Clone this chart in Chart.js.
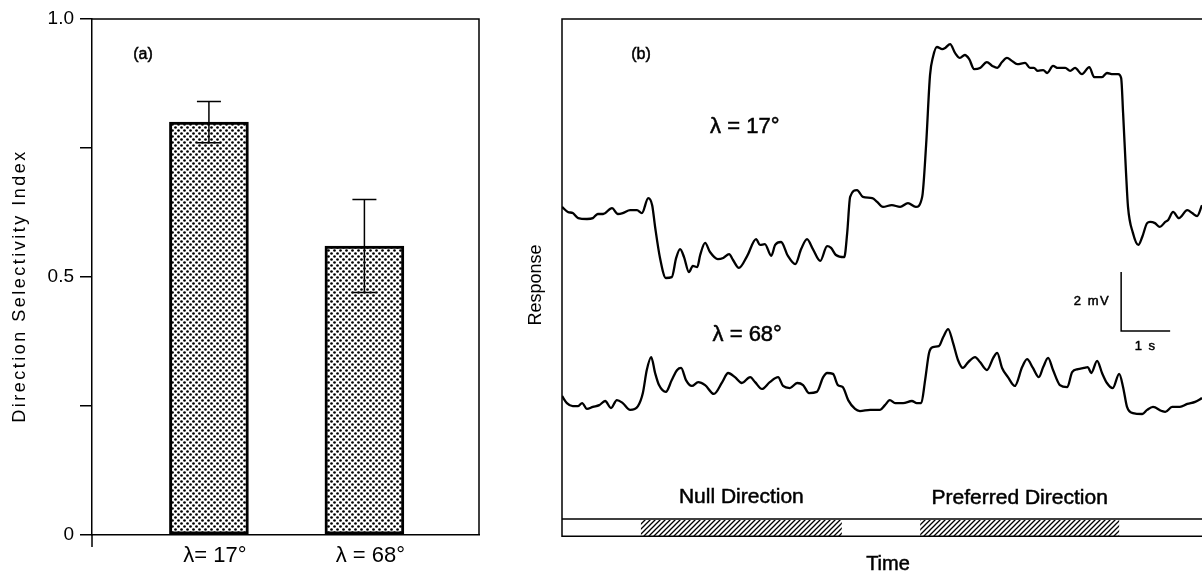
<!DOCTYPE html>
<html>
<head>
<meta charset="utf-8">
<script src="https://cdn.jsdelivr.net/npm/chart.js@4.4.1/dist/chart.umd.min.js"></script>
<style>
  html, body { margin: 0; padding: 0; background: #fff; }
  #wrap { position: relative; width: 1202px; height: 575px; }
  canvas { position: absolute; top: 0; }
  #dsiChart { left: 0; }
  #traceChart { left: 490px; }
</style>
</head>
<body>
<div id="wrap">
  <canvas id="dsiChart" width="490" height="575"></canvas>
  <canvas id="traceChart" width="712" height="575"></canvas>
</div>
<script>
// (a) direction selectivity index per wavelength, mean and error
const categories = ["λ= 17°", "λ = 68°"];
const dsiMean = [0.80, 0.56];
const dsiError = [0.04, 0.09];
const dsiTicks = [0, 0.25, 0.5, 0.75, 1.0];
const dsiTickLabels = ["0", "", "0.5", "", "1.0"];

// (b) intracellular response, [time (s), mV]
const trace17 = [
  [0, 11.19], [0.12, 11.02], [0.22, 10.98], [0.33, 10.81], [0.51, 10.78], [0.63, 10.81],
  [0.73, 10.95], [0.84, 10.95], [1.02, 11.15], [1.14, 10.95], [1.24, 10.98], [1.39, 11.08],
  [1.53, 11.08], [1.63, 10.98], [1.76, 11.49], [1.84, 11.25], [1.90, 10.51], [2.00, 9.46],
  [2.12, 8.78], [2.24, 8.81], [2.33, 9.46], [2.41, 9.76], [2.49, 9.49], [2.59, 8.98],
  [2.67, 9.19], [2.76, 9.15], [2.82, 9.56], [2.92, 9.97], [3.02, 9.66], [3.18, 9.42],
  [3.29, 9.46], [3.41, 9.59], [3.49, 9.39], [3.61, 9.12], [3.78, 9.53], [3.96, 10.10],
  [4.04, 9.90], [4.14, 9.93], [4.27, 9.53], [4.35, 9.90], [4.47, 10.00], [4.61, 9.53],
  [4.76, 9.25], [4.88, 9.76], [5.00, 10.10], [5.12, 9.76], [5.27, 9.36], [5.41, 9.86],
  [5.49, 9.80], [5.59, 9.56], [5.76, 9.49], [5.82, 10.31], [5.88, 11.53], [6.02, 11.76],
  [6.14, 11.53], [6.33, 11.49], [6.43, 11.36], [6.55, 11.19], [6.73, 11.25], [6.90, 11.19],
  [7.06, 11.32], [7.22, 11.19], [7.35, 11.53], [7.43, 13.29], [7.51, 15.66], [7.57, 16.27],
  [7.65, 16.61], [7.76, 16.54], [7.82, 16.58], [7.92, 16.71], [8.02, 16.41], [8.12, 16.24],
  [8.22, 16.34], [8.31, 16.20], [8.41, 15.86], [8.53, 15.90], [8.67, 16.10], [8.78, 15.97],
  [8.88, 15.90], [8.98, 16.10], [9.08, 16.24], [9.18, 16.14], [9.29, 16.03], [9.45, 16.07],
  [9.55, 15.90], [9.63, 15.90], [9.71, 15.80], [9.82, 15.83], [9.90, 15.73], [10.02, 15.97],
  [10.12, 15.90], [10.27, 15.90], [10.37, 15.80], [10.47, 15.90], [10.61, 15.69], [10.76, 15.93],
  [10.86, 15.59], [11.02, 15.59], [11.12, 15.73], [11.24, 15.69], [11.35, 15.69], [11.41, 15.56],
  [11.45, 14.37], [11.51, 12.34], [11.55, 11.19], [11.65, 10.31], [11.76, 9.90], [11.84, 10.17],
  [11.94, 10.64], [12.00, 10.68], [12.10, 10.64], [12.20, 10.51], [12.31, 10.68], [12.37, 10.75],
  [12.47, 11.02], [12.59, 10.81], [12.76, 11.08], [12.86, 10.98], [12.96, 10.88], [13.06, 11.25]
];
const trace68 = [
  [0, 4.78], [0.10, 4.54], [0.22, 4.44], [0.33, 4.44], [0.41, 4.54], [0.51, 4.34],
  [0.63, 4.41], [0.76, 4.47], [0.88, 4.61], [1.00, 4.37], [1.12, 4.64], [1.24, 4.54],
  [1.39, 4.31], [1.55, 4.44], [1.65, 4.88], [1.73, 5.66], [1.82, 6.10], [1.90, 5.56],
  [1.98, 5.15], [2.12, 4.92], [2.24, 5.32], [2.35, 5.66], [2.43, 5.73], [2.53, 5.32],
  [2.65, 5.12], [2.78, 5.25], [2.92, 5.15], [3.10, 4.85], [3.27, 5.25], [3.39, 5.56],
  [3.53, 5.42], [3.67, 5.22], [3.84, 5.42], [3.94, 5.25], [4.08, 5.02], [4.24, 5.25],
  [4.41, 5.42], [4.51, 5.12], [4.65, 5.05], [4.80, 5.22], [4.92, 5.15], [5.04, 4.88],
  [5.20, 4.92], [5.33, 5.42], [5.41, 5.56], [5.53, 5.53], [5.63, 5.15], [5.73, 5.08],
  [5.84, 4.64], [5.98, 4.34], [6.08, 4.27], [6.29, 4.31], [6.49, 4.31], [6.59, 4.47],
  [6.69, 4.64], [6.80, 4.54], [6.96, 4.54], [7.14, 4.61], [7.24, 4.54], [7.33, 4.54],
  [7.41, 5.32], [7.49, 6.24], [7.57, 6.44], [7.69, 6.47], [7.78, 6.78], [7.88, 7.05],
  [7.98, 6.58], [8.08, 6.00], [8.18, 5.73], [8.29, 5.93], [8.43, 6.10], [8.53, 5.93],
  [8.67, 5.66], [8.80, 6.07], [8.88, 6.24], [8.98, 5.73], [9.10, 5.42], [9.24, 5.12],
  [9.39, 5.76], [9.49, 6.03], [9.61, 5.73], [9.73, 5.42], [9.82, 5.76], [9.92, 6.07],
  [10.02, 5.66], [10.16, 5.15], [10.31, 5.08], [10.41, 5.59], [10.53, 5.69], [10.65, 5.73],
  [10.73, 5.76], [10.80, 5.56], [10.92, 5.97], [11.02, 5.56], [11.12, 5.22], [11.24, 5.05],
  [11.37, 5.53], [11.45, 5.08], [11.53, 4.41], [11.65, 4.20], [11.84, 4.17], [11.94, 4.31],
  [12.06, 4.41], [12.24, 4.27], [12.31, 4.24], [12.45, 4.41], [12.61, 4.41], [12.76, 4.51],
  [12.92, 4.58], [13.06, 4.71]
];
// stimulus windows, s
const nullStim = [1.61, 5.71];
const prefStim = [7.31, 11.37];

const FONT = "'Liberation Sans', Arial, sans-serif";
const INK = "#000";
const barPos = [1, 2];

function dotPattern(target) {
  const c = document.createElement("canvas");
  c.width = 6; c.height = 6;
  const g = c.getContext("2d");
  g.fillStyle = "#fff";
  g.fillRect(0, 0, 6, 6);
  g.fillStyle = INK;
  [[1.5, 1.5], [4.5, 4.5]].forEach(([x, y]) => {
    g.beginPath();
    g.arc(x, y, 1.35, 0, Math.PI * 2);
    g.fill();
  });
  return target.createPattern(c, "repeat");
}

function hatchPattern(target) {
  const c = document.createElement("canvas");
  c.width = 5; c.height = 5;
  const g = c.getContext("2d");
  g.fillStyle = "#fff";
  g.fillRect(0, 0, 5, 5);
  g.strokeStyle = INK;
  g.lineWidth = 1.3;
  g.beginPath();
  g.moveTo(-1, 6); g.lineTo(6, -1);
  g.moveTo(-1, 1); g.lineTo(1, -1);
  g.moveTo(4, 6); g.lineTo(6, 4);
  g.stroke();
  return target.createPattern(c, "repeat");
}

// heavier lettering for the panel annotations
function boldText(ctx, text, x, y) {
  ctx.fillText(text, x, y);
  ctx.lineWidth = 0.5;
  ctx.strokeText(text, x, y);
}

const errorBars = {
  id: "errorBars",
  afterDatasetsDraw(chart) {
    const { ctx, scales: { x, y } } = chart;
    ctx.save();
    ctx.strokeStyle = INK;
    ctx.lineWidth = 1.5;
    dsiMean.forEach((m, i) => {
      const px = x.getPixelForValue(barPos[i]);
      const hi = y.getPixelForValue(m + dsiError[i]);
      const lo = y.getPixelForValue(m - dsiError[i]);
      ctx.beginPath();
      ctx.moveTo(px, hi); ctx.lineTo(px, lo);
      ctx.moveTo(px - 12, hi); ctx.lineTo(px + 12, hi);
      ctx.moveTo(px - 12, lo); ctx.lineTo(px + 12, lo);
      ctx.stroke();
    });
    ctx.restore();
  }
};

const frameA = {
  id: "frameA",
  afterDraw(chart) {
    const { ctx, chartArea: a } = chart;
    ctx.save();
    ctx.strokeStyle = INK;
    ctx.lineWidth = 1.5;
    ctx.beginPath();
    ctx.moveTo(a.left, a.top); ctx.lineTo(a.right, a.top); ctx.lineTo(a.right, a.bottom);
    ctx.moveTo(a.left, a.bottom); ctx.lineTo(a.left, a.bottom + 12);
    ctx.stroke();

    ctx.fillStyle = INK;
    ctx.textAlign = "center";
    ctx.textBaseline = "middle";
    ctx.font = `16px ${FONT}`;
    boldText(ctx, "(a)", a.left + 51, a.top + 36);

    ctx.translate(20, (a.top + a.bottom) / 2 + 9);
    ctx.rotate(-Math.PI / 2);
    ctx.font = `18px ${FONT}`;
    ctx.letterSpacing = "2.5px";
    ctx.fillText("Direction Selectivity Index", 0, 0);
    ctx.restore();
  }
};

const ctxA = document.getElementById("dsiChart").getContext("2d");
new Chart(ctxA, {
  type: "bar",
  data: {
    datasets: [{
      data: dsiMean.map((y, i) => ({ x: barPos[i], y })),
      backgroundColor: dotPattern(ctxA),
      borderColor: INK,
      borderWidth: 3,
      borderSkipped: false,
      barThickness: 79
    }]
  },
  options: {
    responsive: false,
    animation: false,
    layout: { padding: { top: 19, right: 11, left: 0, bottom: 0 } },
    plugins: { legend: { display: false }, tooltip: { enabled: false } },
    scales: {
      x: {
        type: "linear",
        offset: false,
        min: 0.248,
        max: 2.737,
        afterBuildTicks: s => { s.ticks = barPos.map(v => ({ value: v })); },
        afterFit: s => { s.height = 40; },
        grid: { display: false, drawTicks: false, offset: false },
        border: { color: INK, width: 1.5 },
        ticks: {
          callback: (v, i) => categories[i],
          font: { family: FONT, size: 22 },
          color: INK,
          padding: 8,
          labelOffset: 6,
          maxRotation: 0
        }
      },
      y: {
        min: 0,
        max: 1,
        afterBuildTicks: s => { s.ticks = dsiTicks.map(v => ({ value: v })); },
        afterFit: s => { s.width = 92; },
        grid: { drawOnChartArea: false, tickLength: 12, color: INK, lineWidth: 1.5 },
        border: { color: INK, width: 1.5 },
        ticks: {
          callback: (v, i) => dsiTickLabels[i],
          font: { family: FONT, size: 19 },
          color: INK,
          padding: 6
        }
      }
    }
  },
  plugins: [errorBars, frameA]
});

const ctxB = document.getElementById("traceChart").getContext("2d");
const hatch = hatchPattern(ctxB);

const traceDecor = {
  id: "traceDecor",
  afterDraw(chart) {
    const { ctx, chartArea: a, scales: { x, y } } = chart;
    ctx.save();
    ctx.strokeStyle = INK;
    ctx.fillStyle = INK;
    ctx.lineWidth = 1.5;

    // frame
    ctx.beginPath();
    ctx.moveTo(a.right, a.top); ctx.lineTo(a.left, a.top); ctx.lineTo(a.left, a.bottom);
    ctx.stroke();

    // stimulus strip
    const sTop = a.bottom - 18;
    [nullStim, prefStim].forEach(([t0, t1]) => {
      ctx.fillStyle = hatch;
      ctx.fillRect(x.getPixelForValue(t0), sTop + 1, x.getPixelForValue(t1) - x.getPixelForValue(t0), 16);
    });
    ctx.beginPath();
    ctx.moveTo(a.left, sTop); ctx.lineTo(a.right, sTop);
    ctx.moveTo(a.left, a.bottom - 0.75); ctx.lineTo(a.right, a.bottom - 0.75);
    ctx.stroke();

    ctx.fillStyle = INK;
    ctx.textAlign = "center";
    ctx.textBaseline = "middle";
    ctx.font = `21px ${FONT}`;
    boldText(ctx, "Null Direction", x.getPixelForValue((nullStim[0] + nullStim[1]) / 2), a.bottom - 40);
    boldText(ctx, "Preferred Direction", x.getPixelForValue((prefStim[0] + prefStim[1]) / 2), a.bottom - 39);
    ctx.font = `20px ${FONT}`;
    boldText(ctx, "Time", (a.left + a.right) / 2 + 6, a.bottom + 27);

    ctx.font = `22px ${FONT}`;
    boldText(ctx, "λ = 17°", x.getPixelForValue(3.73), y.getPixelForValue(13.9));
    boldText(ctx, "λ = 68°", x.getPixelForValue(3.78), y.getPixelForValue(6.85));

    ctx.font = `16px ${FONT}`;
    boldText(ctx, "(b)", a.left + 79, a.top + 36);

    // scale bar: 1 s by 2 mV
    const x0 = x.getPixelForValue(11.41), x1 = x.getPixelForValue(12.41);
    const yb = y.getPixelForValue(6.98), yt = y.getPixelForValue(8.98);
    ctx.lineWidth = 1.5;
    ctx.beginPath();
    ctx.moveTo(x0, yt); ctx.lineTo(x0, yb); ctx.lineTo(x1, yb);
    ctx.stroke();
    ctx.font = `13px ${FONT}`;
    ctx.letterSpacing = "1.5px";
    ctx.textAlign = "right";
    boldText(ctx, "2 mV", x0 - 11, (yb + yt) / 2);
    ctx.textAlign = "center";
    boldText(ctx, "1 s", (x0 + x1) / 2, yb + 15);
    ctx.letterSpacing = "0px";

    ctx.translate(46, (a.top + a.bottom) / 2 + 7);
    ctx.rotate(-Math.PI / 2);
    ctx.font = `18px ${FONT}`;
    ctx.fillText("Response", 0, 0);
    ctx.restore();
  }
};

const asPoints = tr => tr.map(([t, v]) => ({ x: t, y: v }));
const traceStyle = {
  borderColor: INK,
  borderWidth: 2.3,
  pointRadius: 0,
  fill: false,
  cubicInterpolationMode: "monotone"
};

new Chart(ctxB, {
  type: "line",
  data: {
    datasets: [
      { label: "λ = 17°", data: asPoints(trace17), ...traceStyle },
      { label: "λ = 68°", data: asPoints(trace68), ...traceStyle }
    ]
  },
  options: {
    responsive: false,
    animation: false,
    layout: { padding: { left: 72, top: 19, right: 0, bottom: 38 } },
    plugins: { legend: { display: false }, tooltip: { enabled: false } },
    scales: {
      x: { type: "linear", display: false, min: 0, max: 13.06 },
      y: { display: false, min: 0, max: 17.56 }
    }
  },
  plugins: [traceDecor]
});
</script>
</body>
</html>
